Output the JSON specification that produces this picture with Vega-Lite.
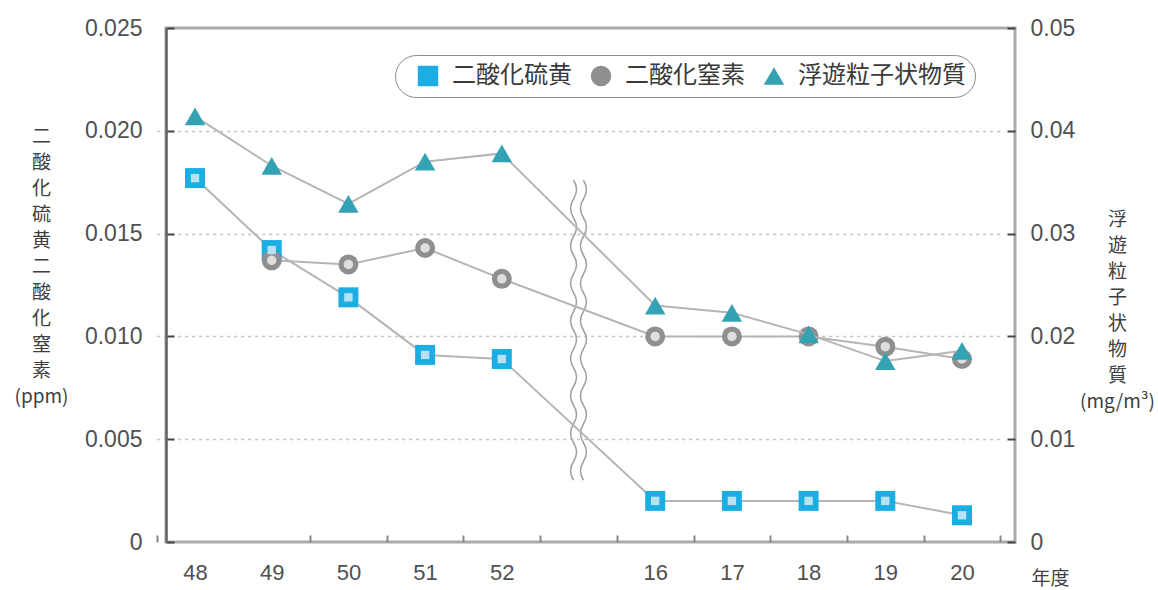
{
  "$schema": "https://vega.github.io/schema/vega-lite/v6.json",
  "width": 849,
  "height": 514,
  "autosize": {"type": "none"},
  "padding": {"left": 166, "top": 28, "right": 143, "bottom": 48},
  "background": "white",
  "config": {
    "view": {"stroke": "#aaaaaa", "strokeWidth": 3},
    "font": "Liberation Sans",
    "axis": {
      "labelFont": "Liberation Sans",
      "labelColor": "#505050",
      "labelFontSize": 22,
      "titleFont": "Noto Sans CJK JP",
      "titleColor": "#404040",
      "titleFontWeight": "normal",
      "titleFontSize": 19
    },
    "legend": {
      "labelFont": "Noto Sans CJK JP",
      "labelFontSize": 24,
      "labelColor": "#3a3a3a",
      "labelLimit": 400
    }
  },
  "datasets": {
    "obs": [
      {"year": "48", "series": "二酸化硫黄", "value": 0.0177},
      {"year": "49", "series": "二酸化硫黄", "value": 0.0142},
      {"year": "50", "series": "二酸化硫黄", "value": 0.0119},
      {"year": "51", "series": "二酸化硫黄", "value": 0.0091},
      {"year": "52", "series": "二酸化硫黄", "value": 0.0089},
      {"year": "16", "series": "二酸化硫黄", "value": 0.0020},
      {"year": "17", "series": "二酸化硫黄", "value": 0.0020},
      {"year": "18", "series": "二酸化硫黄", "value": 0.0020},
      {"year": "19", "series": "二酸化硫黄", "value": 0.0020},
      {"year": "20", "series": "二酸化硫黄", "value": 0.0013},
      {"year": "49", "series": "二酸化窒素", "value": 0.0137},
      {"year": "50", "series": "二酸化窒素", "value": 0.0135},
      {"year": "51", "series": "二酸化窒素", "value": 0.0143},
      {"year": "52", "series": "二酸化窒素", "value": 0.0128},
      {"year": "16", "series": "二酸化窒素", "value": 0.0100},
      {"year": "17", "series": "二酸化窒素", "value": 0.0100},
      {"year": "18", "series": "二酸化窒素", "value": 0.0100},
      {"year": "19", "series": "二酸化窒素", "value": 0.0095},
      {"year": "20", "series": "二酸化窒素", "value": 0.0089},
      {"year": "48", "series": "浮遊粒子状物質", "value": 0.0414},
      {"year": "49", "series": "浮遊粒子状物質", "value": 0.0366},
      {"year": "50", "series": "浮遊粒子状物質", "value": 0.0329},
      {"year": "51", "series": "浮遊粒子状物質", "value": 0.0370},
      {"year": "52", "series": "浮遊粒子状物質", "value": 0.0378},
      {"year": "16", "series": "浮遊粒子状物質", "value": 0.0230},
      {"year": "17", "series": "浮遊粒子状物質", "value": 0.0223},
      {"year": "18", "series": "浮遊粒子状物質", "value": 0.0202},
      {"year": "19", "series": "浮遊粒子状物質", "value": 0.0176},
      {"year": "20", "series": "浮遊粒子状物質", "value": 0.0186}
    ],
    "brk": [{"year": " ", "value": 0.0103}]
  },
  "encoding": {
    "x": {
      "field": "year",
      "type": "ordinal",
      "scale": {
        "type": "band",
        "domain": ["48", "49", "50", "51", "52", " ", "16", "17", "18", "19", "20"],
        "range": [-9.35, 834.35],
        "paddingInner": 0,
        "paddingOuter": 0
      },
      "axis": {
        "title": "年度",
        "titleX": 884,
        "titleY": 36,
        "titleAlign": "center",
        "titleBaseline": "middle",
        "tickBand": "extent",
        "domain": false,
        "grid": false,
        "tickColor": "#888888",
        "tickOpacity": {"condition": {"test": "datum.value == '48'", "value": 0}, "value": 1},
        "tickSize": -7,
        "tickWidth": 2,
        "labelPadding": 27,
        "labelAngle": 0
      }
    }
  },
  "layer": [
    {
      "data": {"name": "brk"},
      "mark": {
        "type": "point",
        "shape": "M-0.033,-1 Q0.007,-0.9375 -0.033,-0.875 Q-0.073,-0.8125 -0.033,-0.75 Q0.007,-0.6875 -0.033,-0.625 Q-0.073,-0.5625 -0.033,-0.5 Q0.007,-0.4375 -0.033,-0.375 Q-0.073,-0.3125 -0.033,-0.25 Q0.007,-0.1875 -0.033,-0.125 Q-0.073,-0.0625 -0.033,0 Q0.007,0.0625 -0.033,0.125 Q-0.073,0.1875 -0.033,0.25 Q0.007,0.3125 -0.033,0.375 Q-0.073,0.4375 -0.033,0.5 Q0.007,0.5625 -0.033,0.625 Q-0.073,0.6875 -0.033,0.75 Q0.007,0.8125 -0.033,0.875 Q-0.073,0.9375 -0.033,1 M0.033,-1 Q0.073,-0.9375 0.033,-0.875 Q-0.007,-0.8125 0.033,-0.75 Q0.073,-0.6875 0.033,-0.625 Q-0.007,-0.5625 0.033,-0.5 Q0.073,-0.4375 0.033,-0.375 Q-0.007,-0.3125 0.033,-0.25 Q0.073,-0.1875 0.033,-0.125 Q-0.007,-0.0625 0.033,0 Q0.073,0.0625 0.033,0.125 Q-0.007,0.1875 0.033,0.25 Q0.073,0.3125 0.033,0.375 Q-0.007,0.4375 0.033,0.5 Q0.073,0.5625 0.033,0.625 Q-0.007,0.6875 0.033,0.75 Q0.073,0.8125 0.033,0.875 Q-0.007,0.9375 0.033,1",
        "filled": false,
        "size": 90000,
        "strokeWidth": 1.5,
        "color": "#a0a0a0",
        "opacity": 1
      },
      "encoding": {
        "y": {"field": "value", "type": "quantitative", "scale": {"domain": [0, 0.025]}, "axis": null}
      }
    },
    {
      "data": {"name": "obs"},
      "transform": [{"filter": "datum.series != '浮遊粒子状物質'"}],
      "encoding": {
        "y": {
          "field": "value",
          "type": "quantitative",
          "scale": {"domain": [0, 0.025]},
          "axis": {
            "values": [0, 0.005, 0.01, 0.015, 0.02, 0.025],
            "labelExpr": "datum.value == 0 ? '0' : format(datum.value, '.3f')",
            "labelFontSize": 23,
            "title": ["二", "酸", "化", "硫", "黄", "二", "酸", "化", "窒", "素", "(ppm)"],
            "titleAngle": 0,
            "titleX": -125,
            "titleY": 99,
            "titleAlign": "center",
            "titleBaseline": "top",
            "titleLineHeight": 26,
            "grid": true,
            "gridDash": [3, 4],
            "gridColor": "#c4c4c4",
            "gridWidth": 1.5,
            "gridOpacity": {"condition": {"test": "datum.value == 0 || datum.value == 0.025", "value": 0}, "value": 1},
            "domainColor": "#666666",
            "domainWidth": 2.5,
            "tickColor": "#444444",
            "tickSize": -8,
            "tickWidth": 2,
            "labelPadding": 32
          }
        }
      },
      "layer": [
        {
          "mark": {"type": "line", "color": "#b5b5b5", "strokeWidth": 2},
          "encoding": {"detail": {"field": "series"}, "order": {"value": null}}
        },
        {
          "mark": {"type": "point", "filled": true, "opacity": 1, "size": 400},
          "encoding": {
            "color": {
              "field": "series",
              "type": "nominal",
              "scale": {"domain": ["二酸化硫黄", "二酸化窒素", "浮遊粒子状物質"], "range": ["#1aaee2", "#8f8f8f", "#33a3b3"]},
              "legend": {"orient": "none", "legendX": 229, "legendY": 27, "direction": "horizontal", "title": null, "fillColor": "white", "strokeColor": "#8a8a8a", "cornerRadius": 21, "padding": 9, "symbolSize": 420, "symbolOffset": 12, "labelOffset": 12, "columnPadding": 5}
            },
            "shape": {
              "field": "series",
              "type": "nominal",
              "scale": {"domain": ["二酸化硫黄", "二酸化窒素", "浮遊粒子状物質"], "range": ["square", "circle", "triangle-up"]},
              "legend": {"orient": "none", "legendX": 229, "legendY": 27, "direction": "horizontal", "title": null, "fillColor": "white", "strokeColor": "#8a8a8a", "cornerRadius": 21, "padding": 9, "symbolSize": 420, "symbolOffset": 12, "labelOffset": 12, "columnPadding": 5}
            }
          }
        },
        {
          "transform": [{"filter": "datum.series == '二酸化硫黄'"}],
          "mark": {"type": "point", "shape": "square", "filled": true, "opacity": 1, "size": 70, "color": "#b8e2f4"}
        },
        {
          "transform": [{"filter": "datum.series == '二酸化窒素'"}],
          "mark": {"type": "point", "shape": "circle", "filled": true, "opacity": 1, "size": 90, "color": "#dedede"}
        }
      ]
    },
    {
      "data": {"name": "obs"},
      "transform": [{"filter": "datum.series == '浮遊粒子状物質'"}],
      "encoding": {
        "y": {
          "field": "value",
          "type": "quantitative",
          "scale": {"domain": [0, 0.05]},
          "axis": {
            "orient": "right",
            "values": [0, 0.01, 0.02, 0.03, 0.04, 0.05],
            "labelExpr": "datum.value == 0 ? '0' : format(datum.value, '.2f')",
            "labelFontSize": 23,
            "title": ["浮", "遊", "粒", "子", "状", "物", "質", "(mg/m³)"],
            "titleAngle": 0,
            "titleX": 102,
            "titleY": 182,
            "titleAlign": "center",
            "titleBaseline": "top",
            "titleLineHeight": 26,
            "grid": false,
            "domain": false,
            "tickColor": "#444444",
            "tickSize": -8,
            "tickWidth": 2,
            "labelPadding": 23
          }
        }
      },
      "layer": [
        {
          "mark": {"type": "line", "color": "#b5b5b5", "strokeWidth": 2},
          "encoding": {"detail": {"field": "series"}, "order": {"value": null}}
        },
        {
          "mark": {"type": "point", "filled": true, "opacity": 1, "size": 420},
          "encoding": {
            "color": {
              "field": "series",
              "type": "nominal",
              "scale": {"domain": ["二酸化硫黄", "二酸化窒素", "浮遊粒子状物質"], "range": ["#1aaee2", "#8f8f8f", "#33a3b3"]},
              "legend": {"orient": "none", "legendX": 229, "legendY": 27, "direction": "horizontal", "title": null, "fillColor": "white", "strokeColor": "#8a8a8a", "cornerRadius": 21, "padding": 9, "symbolSize": 420, "symbolOffset": 12, "labelOffset": 12, "columnPadding": 5}
            },
            "shape": {
              "field": "series",
              "type": "nominal",
              "scale": {"domain": ["二酸化硫黄", "二酸化窒素", "浮遊粒子状物質"], "range": ["square", "circle", "triangle-up"]},
              "legend": {"orient": "none", "legendX": 229, "legendY": 27, "direction": "horizontal", "title": null, "fillColor": "white", "strokeColor": "#8a8a8a", "cornerRadius": 21, "padding": 9, "symbolSize": 420, "symbolOffset": 12, "labelOffset": 12, "columnPadding": 5}
            }
          }
        }
      ]
    }
  ],
  "resolve": {"scale": {"y": "independent"}}
}
